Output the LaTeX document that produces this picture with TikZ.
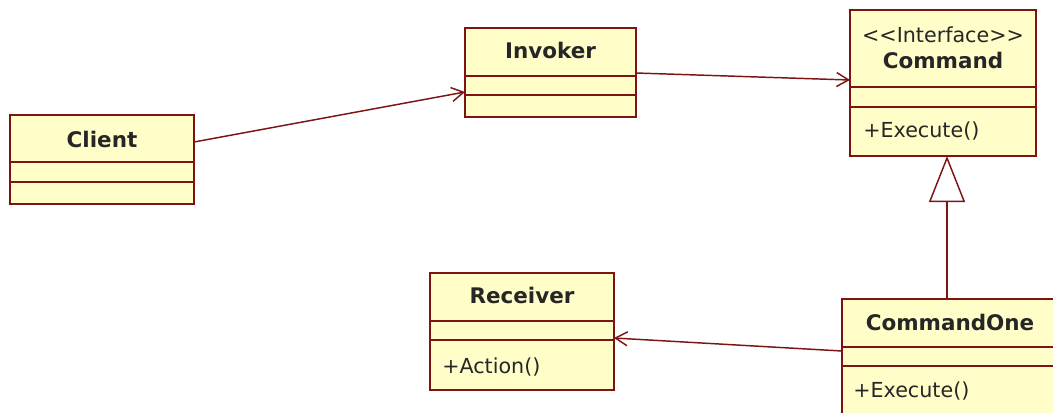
\documentclass[tikz,border=0pt]{standalone}
\usepackage{fontspec}
\setmainfont{DejaVu Sans}
\usetikzlibrary{arrows.meta,calc}
\definecolor{umlfill}{RGB}{255,253,200}
\definecolor{umlline}{RGB}{125,20,20}
\begin{document}
\begin{tikzpicture}[x=0.75pt,y=-0.75pt,
  classbox/.style={draw=umlline,fill=umlfill,line width=1.1pt,inner sep=0pt,outer sep=0pt},
  sep/.style={draw=umlline,line width=1.1pt},
  title/.style={font=\fontsize{16.1}{19}\bfseries\selectfont,anchor=base,inner sep=0pt,text=black!85},
  stereo/.style={font=\fontsize{15.5}{19}\selectfont,anchor=base,inner sep=0pt,text=black!85},
  oper/.style={font=\fontsize{15.5}{19}\selectfont,anchor=base west,inner sep=0pt,text=black!85},
  assoc/.style={draw=umlline,line width=1.1pt,-{Straight Barb[length=9pt,width=10.5pt]}},
  realize/.style={draw=umlline,line width=1.1pt,-{Triangle[open,fill=white,length=34.5pt,width=27pt]}}]
\useasboundingbox (0,0) rectangle (1053,412);
\clip (0,0) rectangle (1053,412);
% Client
\node[classbox,minimum width={184*0.75pt},minimum height={89*0.75pt}] (client) at (102,159.5) {};
\draw[sep] (10,162) -- (194,162);
\draw[sep] (10,182) -- (194,182);
\node[title] (clientT) at (102,147) {Client};
% Invoker
\node[classbox,minimum width={171*0.75pt},minimum height={89*0.75pt}] (invoker) at (550.5,72.5) {};
\draw[sep] (465,76) -- (636,76);
\draw[sep] (465,95) -- (636,95);
\node[title] (invokerT) at (550.5,58) {Invoker};
% Command
\node[classbox,minimum width={186*0.75pt},minimum height={146*0.75pt}] (command) at (943,83) {};
\draw[sep] (850,87) -- (1036,87);
\draw[sep] (850,107) -- (1036,107);
\node[stereo] (commandS) at (943,42) {{<}{<}Interface{>}{>}};
\node[title] (commandT) at (943,68) {Command};
\node[oper] (commandOp) at (863,137) {+Execute()};
% Receiver
\node[classbox,minimum width={184*0.75pt},minimum height={117*0.75pt}] (receiver) at (522,331.5) {};
\draw[sep] (430,321) -- (614,321);
\draw[sep] (430,340) -- (614,340);
\node[title] (receiverT) at (522,303) {Receiver};
\node[oper] (receiverOp) at (442,373) {+Action()};
% CommandOne
\node[classbox,minimum width={218*0.75pt},minimum height={121*0.75pt}] (commandone) at (951,359.5) {};
\draw[sep] (842,347) -- (1060,347);
\draw[sep] (842,366) -- (1060,366);
\node[title] (commandoneT) at (950,330) {CommandOne};
\node[oper] (commandoneOp) at (853,397) {+Execute()};
% connectors
\draw[assoc] ($(client.east)+(0,-17.5)$) -- ($(invoker.west)+(0,19.5)$);
\draw[assoc] ($(invoker.east)+(0,0.5)$) -- ($(command.west)+(0,-3)$);
\draw[assoc] ($(commandone.west)+(0,-8.5)$) -- ($(receiver.east)+(0,6.5)$);
\draw[realize] ($(commandone.north)+(-4,0)$) -- ($(command.south)+(4,0)$);
\end{tikzpicture}
\end{document}
